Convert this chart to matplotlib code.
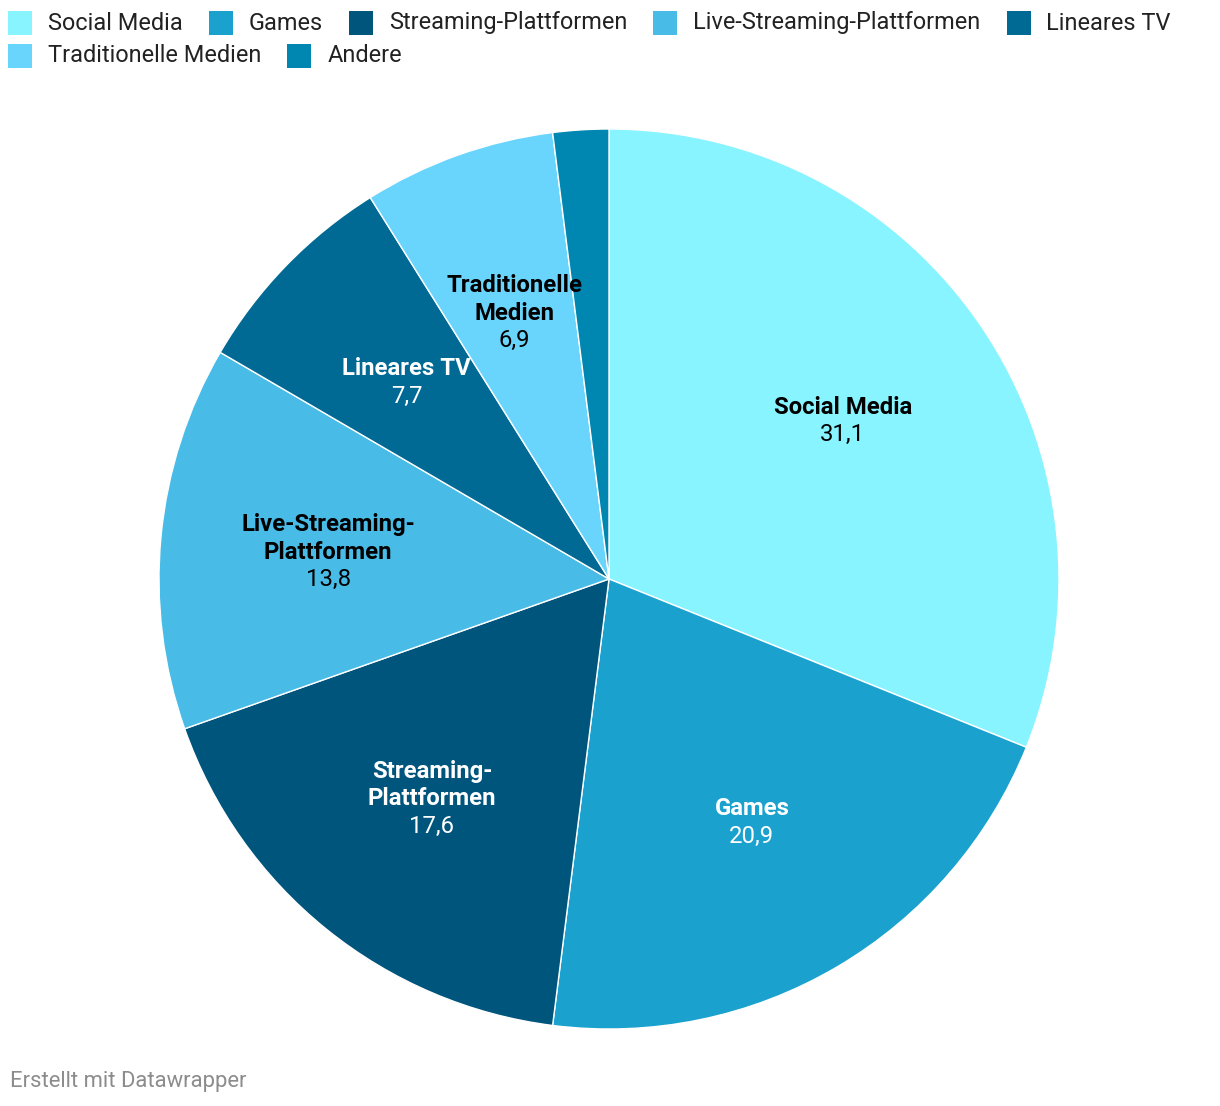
import matplotlib
matplotlib.use('Agg')
import matplotlib.pyplot as plt
import numpy as np
from matplotlib.patches import Rectangle

plt.rcParams['font.family'] = ['Roboto', 'DejaVu Sans']

categories = ['Social Media', 'Games', 'Streaming-Plattformen', 'Live-Streaming-Plattformen',
              'Lineares TV', 'Traditionelle Medien', 'Andere']
values = [31.1, 20.9, 17.6, 13.8, 7.7, 6.9, 2.0]
slice_labels = ['Social Media', 'Games', 'Streaming-\nPlattformen', 'Live-Streaming-\nPlattformen',
                'Lineares TV', 'Traditionelle\nMedien', None]
colors = ['#88f4ff', '#1aa1ce', '#00557d', '#48bbe6', '#006a94', '#69d5fc', '#0087b1']
text_colors = ['black', 'white', 'white', 'black', 'white', 'black', None]

W, H = 1220, 1106
fig = plt.figure(figsize=(W / 100, H / 100), dpi=100)

# pie axes: center (609, 579), radius 450 px
cx, cy, r = 609, 579, 450
ax = fig.add_axes([(cx - r) / W, (H - cy - r) / H, 2 * r / W, 2 * r / H])

wedges, _ = ax.pie(values, colors=colors, startangle=90, counterclock=False, radius=1,
                   wedgeprops=dict(edgecolor='white', linewidth=1))
ax.set_xlim(-1, 1)
ax.set_ylim(-1, 1)
ax.set_aspect('equal')
ax.axis('off')

# labels inside slices
total = sum(values)
start = 90.0
line_h = 27.5 / r  # line height in data units
for val, lab, tc in zip(values, slice_labels, text_colors):
    sweep = val / total * 360
    mid = np.radians(start - sweep / 2)
    start -= sweep
    if lab is None:
        continue
    x, y = 0.627 * np.cos(mid), 0.627 * np.sin(mid)
    lines = lab.split('\n') + [f'{val:.1f}'.replace('.', ',')]
    n = len(lines)
    for i, line in enumerate(lines):
        yy = y + ((n - 1) / 2 - i) * line_h
        ax.text(x, yy, line, ha='center', va='center', color=tc, fontsize=17.2,
                fontweight='bold' if i < n - 1 else 'normal')

# flowing legend at top
fig.canvas.draw()
renderer = fig.canvas.get_renderer()
sq = 24
x0, x = 8, 8
row_y = [23, 56]
row = 0
for cat, col in zip(categories, colors):
    t = fig.text(0, 0, cat, fontsize=16.9, color='#222222', va='center', ha='left')
    tw = t.get_window_extent(renderer).width
    item_w = sq + 16 + tw
    if x + item_w > W - 10:
        row += 1
        x = x0
    y = row_y[row]
    fig.patches.append(Rectangle((x / W, (H - y - sq / 2) / H), sq / W, sq / H,
                                 transform=fig.transFigure, facecolor=col, edgecolor='none'))
    t.set_position(((x + sq + 16) / W, (H - y) / H))
    x += item_w + 26

fig.text(10 / W, (H - 1082) / H, 'Erstellt mit Datawrapper', fontsize=15.8, color='#8c8c8c',
         va='center', ha='left')

fig.savefig('out.png', dpi=100, facecolor='white')
